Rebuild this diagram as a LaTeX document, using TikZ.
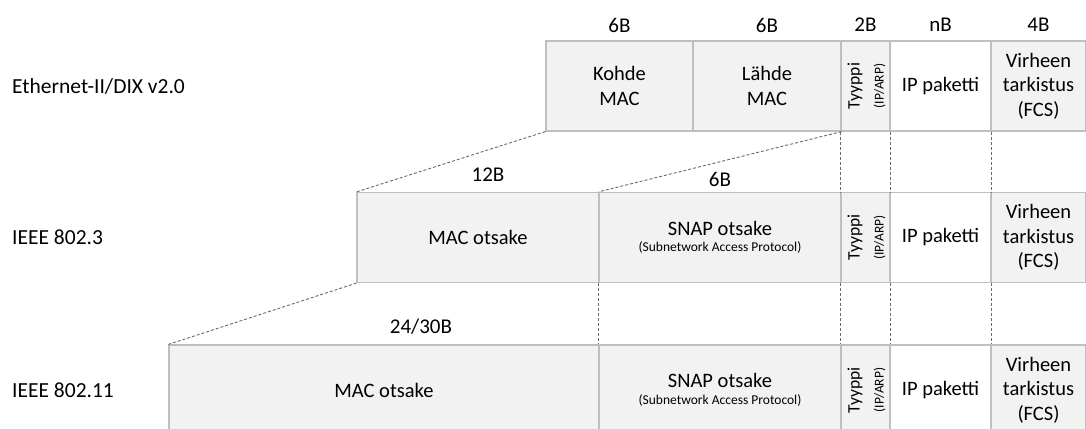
\documentclass[tikz,border=0pt]{standalone}
\usepackage{fontspec}
\setmainfont{Carlito}
\definecolor{cellfill}{RGB}{242,242,242}
\definecolor{cellline}{RGB}{191,191,191}
\definecolor{guideline}{RGB}{105,105,105}
\begin{document}
\begin{tikzpicture}[x=1pt,y=-1pt,
  cell/.style={draw=cellline, fill=cellfill, line width=1.2pt, minimum height=90pt,
               inner sep=0pt, align=center, font=\fontsize{20.5}{24.5}\selectfont},
  pkt/.style={cell, fill=white},
  rowname/.style={anchor=west, inner sep=0pt, font=\fontsize{21.5}{25}\selectfont},
  size/.style={inner sep=0pt, font=\fontsize{21}{25}\selectfont},
  celltext/.style={inner sep=0pt, font=\fontsize{20.5}{24.5}\selectfont},
  typ/.style={rotate=90, inner sep=0pt, font=\fontsize{17.5}{20}\selectfont},
  small/.style={inner sep=0pt, font=\fontsize{13.5}{16}\selectfont},
  guide/.style={draw=guideline, line width=0.9pt, dash pattern=on 3pt off 2pt}]
\useasboundingbox (0,0) rectangle (1086,428);
\clip (0,0) rectangle (1086,428);

% frame names
\node[rowname] (n1) at (12,86) {Ethernet-II/DIX v2.0};
\node[rowname] (n2) at (12,237.5) {IEEE 802.3};
\node[rowname] (n3) at (12,390) {IEEE 802.11};

% Ethernet II frame
\node[cell, minimum width=147pt] (kohde) at (619.5,86) {Kohde\\MAC};
\node[cell, minimum width=148pt] (lahde) at (767,86) {Lähde\\MAC};
\node[cell, minimum width=49pt]  (typA)  at (865.5,86) {};
\node[pkt,  minimum width=101pt] (ipA)   at (940.5,86) {IP paketti};
\node[cell, minimum width=95pt]  (fcsA)  at (1038.5,86) {Virheen\\tarkistus\\(FCS)};

% IEEE 802.3 frame
\node[cell, minimum width=242pt] (macB)  at (478,237.5) {MAC otsake};
\node[cell, minimum width=242pt] (snapB) at (720,237.5) {};
\node[cell, minimum width=49pt]  (typB)  at (865.5,237.5) {};
\node[pkt,  minimum width=101pt] (ipB)   at (940.5,237.5) {IP paketti};
\node[cell, minimum width=95pt]  (fcsB)  at (1038.5,237.5) {Virheen\\tarkistus\\(FCS)};

% IEEE 802.11 frame
\node[cell, minimum width=430pt] (macC)  at (384,390) {MAC otsake};
\node[cell, minimum width=242pt] (snapC) at (720,390) {};
\node[cell, minimum width=49pt]  (typC)  at (865.5,390) {};
\node[pkt,  minimum width=101pt] (ipC)   at (940.5,390) {IP paketti};
\node[cell, minimum width=95pt]  (fcsC)  at (1038.5,390) {Virheen\\tarkistus\\(FCS)};

% SNAP header texts
\foreach \c in {snapB,snapC}{
  \node[celltext] (\c-t) at ([yshift=9.5pt]\c.center) {SNAP otsake};
  \node[small] (\c-s) at ([yshift=-10pt]\c.center) {(Subnetwork Access Protocol)};
}
% type field texts
\foreach \c in {typA,typB,typC}{
  \node[typ] (\c-t) at ([xshift=-10.5pt]\c.center) {Tyyppi};
  \node[small, rotate=90] (\c-s) at ([xshift=14pt]\c.center) {(IP/ARP)};
}

% field sizes
\node[size] (s1) at (619.5,25) {6B};
\node[size] (s2) at (767,25) {6B};
\node[size] (s3) at (865.5,25) {2B};
\node[size] (s4) at (940.5,25) {nB};
\node[size] (s5) at (1038.5,25) {4B};
\node[size] (s6) at (488,175) {12B};
\node[size] (s7) at (720,179) {6B};
\node[size] (s8) at (421,327) {24/30B};

% correspondence guides
\draw[guide] (kohde.south west) -- (macB.north west);
\draw[guide] (lahde.south east) -- (snapB.north west);
\draw[guide] (typA.south west) -- (typB.north west);
\draw[guide] (typA.south east) -- (typB.north east);
\draw[guide] (ipA.south east) -- (ipB.north east);
\draw[guide] (macB.south west) -- (macC.north west);
\draw[guide] (snapB.south west) -- (snapC.north west);
\draw[guide] (typB.south west) -- (typC.north west);
\draw[guide] (typB.south east) -- (typC.north east);
\draw[guide] (ipB.south east) -- (ipC.north east);
\end{tikzpicture}
\end{document}
